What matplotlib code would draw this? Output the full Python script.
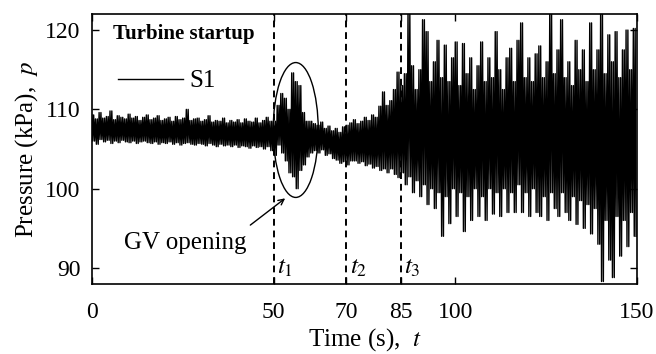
import numpy as np
import matplotlib.pyplot as plt
from matplotlib.patches import Ellipse

plt.rcParams['font.family'] = ['Liberation Serif', 'DejaVu Serif']
plt.rcParams['mathtext.fontset'] = 'stix'
# keep every peak/trough vertex of the dense signal
plt.rcParams['path.simplify'] = False

# pressure S1, peak (hi) and trough (lo) per 1 s window, kPa
p_hi_0_50 = [109.3, 108.8, 109.6, 108.9, 109.1, 109.8, 108.7, 109.2, 109.0, 108.8,
             109.4, 108.9, 109.1, 108.6, 109.0, 109.3, 108.7, 108.9, 109.2, 108.6,
             108.8, 109.0, 108.5, 109.1, 108.7, 108.9, 110.0, 108.6, 108.8, 108.9,
             108.5, 108.7, 109.2, 108.4, 108.6, 108.5, 108.9, 108.3, 108.6, 108.4,
             108.7, 108.3, 108.8, 108.5, 108.4, 108.9, 108.3, 108.6, 109.0, 108.5]
p_lo_0_50 = [106.0, 105.6, 106.2, 105.9, 106.1, 105.7, 106.0, 105.8, 106.1, 105.9,
             105.8, 106.0, 105.7, 105.9, 106.0, 105.8, 105.7, 105.9, 105.6, 105.8,
             105.7, 105.9, 105.6, 105.8, 105.5, 105.7, 105.8, 105.6, 105.5, 105.7,
             105.6, 105.4, 105.7, 105.5, 105.3, 105.6, 105.4, 105.5, 105.3, 105.5,
             105.2, 105.4, 105.3, 105.1, 105.4, 105.2, 105.3, 105.0, 105.3, 104.8]

# guide vane opening, 50-70 s
p_hi_50_70 = [108.5, 110.5, 112.0, 111.4, 110.0, 114.6, 113.5, 113.0, 109.6, 108.5,
              108.5, 108.2, 108.0, 108.4, 107.6, 107.9, 107.3, 107.6, 107.1, 107.8]
p_lo_50_70 = [104.2, 105.5, 104.5, 103.5, 102.0, 101.5, 100.0, 102.3, 103.0, 104.0,
              104.5, 104.8, 104.5, 104.9, 104.2, 104.4, 103.8, 103.6, 103.2, 103.4]

# 70-85 s
p_hi_70_85 = [108.0, 108.3, 108.7, 108.2, 108.5, 109.0, 108.6, 109.3, 109.0, 110.4,
              112.2, 110.5, 111.1, 112.5, 114.7]
p_lo_70_85 = [103.0, 103.5, 103.5, 103.2, 103.4, 102.9, 103.1, 102.6, 102.8, 102.3,
              102.5, 102.0, 102.5, 101.8, 101.4]

# turbine running, 85-150 s
p_hi_85_150 = [113.0, 114.5, 122.5, 115.5, 112.5, 115.0, 121.3, 119.8, 113.5, 116.0,
               118.7, 114.0, 118.1, 113.5, 116.5, 118.5, 113.0, 118.3, 114.5, 116.5,
               112.5, 115.5, 118.5, 113.5, 116.5, 114.0, 119.8, 115.0, 112.5, 116.5,
               117.7, 113.5, 118.7, 120.9, 114.0, 116.5, 113.5, 117.0, 118.0, 114.0,
               116.0, 122.5, 114.5, 117.5, 121.3, 114.0, 116.0, 113.0, 118.7, 115.0,
               117.5, 113.5, 120.9, 115.0, 117.5, 122.5, 114.5, 119.4, 116.0, 119.8,
               114.0, 117.5, 120.0, 115.0, 120.2]
p_lo_85_150 = [102.0, 100.5, 101.5, 99.5, 101.0, 99.0, 100.5, 98.0, 100.0, 97.5,
               99.5, 94.0, 99.0, 95.6, 100.0, 96.5, 99.5, 94.6, 99.0, 96.0,
               100.0, 96.5, 99.0, 96.0, 100.0, 96.8, 99.5, 96.5, 100.0, 97.0,
               99.5, 97.0, 100.5, 97.0, 99.5, 96.5, 100.0, 97.0, 96.5, 99.0,
               96.0, 99.5, 97.5, 96.5, 99.5, 97.0, 96.0, 99.0, 95.5, 98.5,
               95.0, 98.0, 94.3, 97.5, 93.0, 88.3, 96.0, 91.0, 88.8, 96.5,
               91.5, 96.0, 92.7, 97.0, 94.0]

p_hi = p_hi_0_50 + p_hi_50_70 + p_hi_70_85 + p_hi_85_150
p_lo = p_lo_0_50 + p_lo_50_70 + p_lo_70_85 + p_lo_85_150

# two peak -> trough swings inside each 1 s window
cycles = 2
t = np.arange(len(p_hi) * cycles * 2) / (cycles * 2)
p = np.column_stack([p_hi, p_lo] * cycles).ravel()

events = [50, 70, 85]
event_labels = [r'$t_1$', r'$t_2$', r'$t_3$']

fig = plt.figure(figsize=(6.56, 3.54), dpi=100)
ax = fig.add_axes([0.140, 0.198, 0.831, 0.762])

ax.plot(t, p, color='black', lw=1.0, label='S1')

for x, lab in zip(events, event_labels):
    ax.axvline(x, color='black', ls=(0, (3.5, 2.5)), lw=1.4)
    ax.text(x + 0.9, 88.6, lab, fontsize=18, ha='left', va='bottom')

ax.add_patch(Ellipse((56.1, 107.4), width=12.4, height=17.0,
                     fill=False, color='black', lw=1.0))
ax.annotate('', xy=(53.8, 99.0), xytext=(43.0, 95.2),
            arrowprops=dict(arrowstyle='->', color='black', lw=1.0))
ax.text(25.6, 93.2, 'GV opening', fontsize=18, ha='center', va='center')

ax.text(0.038, 0.925, 'Turbine startup', transform=ax.transAxes,
        fontsize=15, fontweight='bold', ha='left', va='center')
leg = ax.legend(loc='center left', bbox_to_anchor=(0.048, 0.752), frameon=False,
                fontsize=18, handlelength=2.6, handletextpad=0.25, borderpad=0,
                borderaxespad=0)
for h in leg.get_lines():
    h.set_linewidth(1.0)

ax.set_xlim(0, 150)
ax.set_ylim(88, 122)
ax.set_xticks([0, 50, 70, 85, 100, 150])
ax.set_yticks([90, 100, 110, 120])
ax.tick_params(direction='in', top=True, right=True, length=5, width=1,
               labelsize=17)
ax.tick_params(axis='x', pad=13)
ax.tick_params(axis='y', pad=8)
for s in ax.spines.values():
    s.set_linewidth(1.2)

ax.set_xlabel(r'Time (s),  $t$', fontsize=18, labelpad=2)
ax.set_ylabel(r'Pressure (kPa),  $p$', fontsize=18, labelpad=4)

fig.savefig('out.png', dpi=100)
